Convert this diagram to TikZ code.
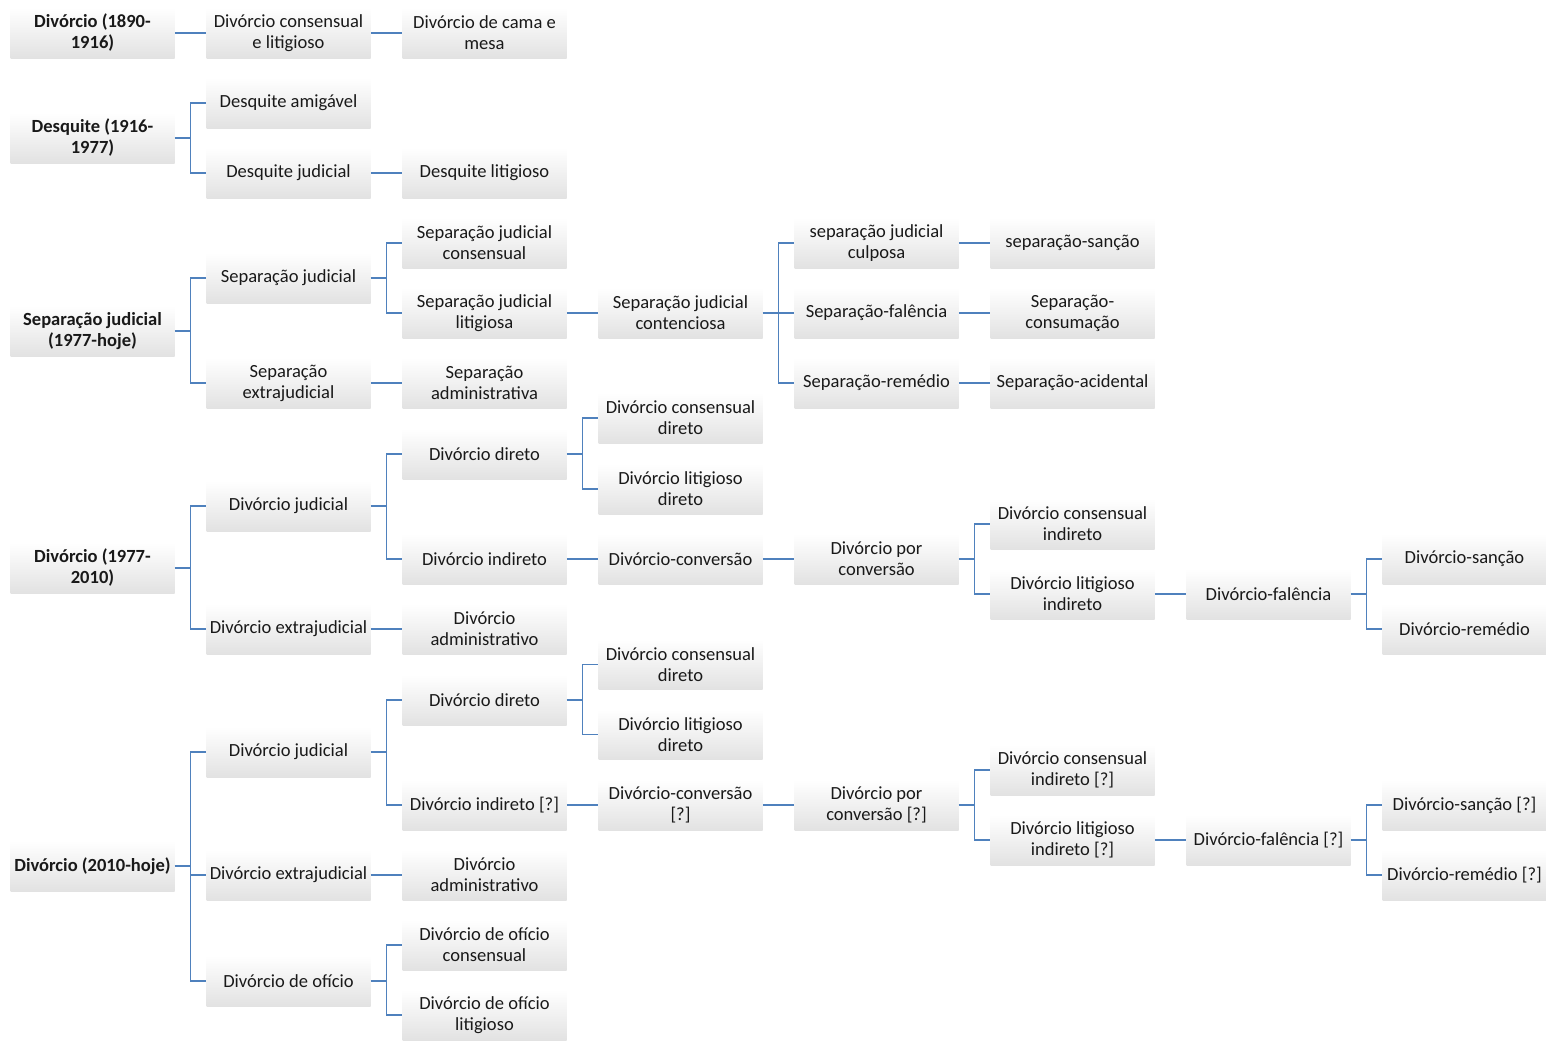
\documentclass[tikz,border=0pt]{standalone}
\usepackage{fontspec}
\setmainfont{Carlito}
\usepackage{tikz}
\usepackage{xcolor}

\definecolor{linkblue}{RGB}{79,129,189}
\definecolor{boxgray}{RGB}{226,226,226}

\begin{document}
\begin{tikzpicture}[
            x = 0.75pt, y = -0.75pt, % pixel grid
            font = \fontsize{13.9}{15.75}\selectfont,
            box/.style = {minimum width=123pt, minimum height=37.5pt, inner sep=1pt,
                          align=center, top color=white, bottom color=boxgray, text=black!90},
            root/.style = {box, font=\fontsize{13.9}{15.75}\selectfont\bfseries},
            link/.style = {draw=linkblue, line width=0.9pt,
                          to path={(\tikztostart.east) -- ++(15.5,0) |- (\tikztotarget.west)}}
        ]
\useasboundingbox (0,0) rectangle (1546,1040);

% first column
\node[root] (D1890) at (92.5,33) {Divórcio (1890-\\1916)};
\node[root] (Desq) at (92.5,138) {Desquite (1916-\\1977)};
\node[root] (SepJ) at (92.5,331) {Separação judicial\\(1977-hoje)};
\node[root] (D1977) at (92.5,568) {Divórcio (1977-\\2010)};
\node[root] (D2010) at (92.5,866) {Divórcio (2010-hoje)};

% second column
\node[box] (DCL) at (288.5,33) {Divórcio consensual\\e litigioso};
\node[box] (DA) at (288.5,103) {Desquite amigável};
\node[box] (DJ) at (288.5,173) {Desquite judicial};
\node[box] (SJ) at (288.5,278) {Separação judicial};
\node[box] (SE) at (288.5,383) {Separação\\extrajudicial};
\node[box] (DJa) at (288.5,506) {Divórcio judicial};
\node[box] (DEa) at (288.5,629) {Divórcio extrajudicial};
\node[box] (DJb) at (288.5,752) {Divórcio judicial};
\node[box] (DEb) at (288.5,875) {Divórcio extrajudicial};
\node[box] (DO) at (288.5,981) {Divórcio de ofício};

% third column
\node[box] (DCM) at (484.5,33) {Divórcio de cama e\\mesa};
\node[box] (DL) at (484.5,173) {Desquite litigioso};
\node[box] (SJC) at (484.5,243) {Separação judicial\\consensual};
\node[box] (SJL) at (484.5,313) {Separação judicial\\litigiosa};
\node[box] (SA) at (484.5,383) {Separação\\administrativa};
\node[box] (DDa) at (484.5,454) {Divórcio direto};
\node[box] (DIa) at (484.5,559) {Divórcio indireto};
\node[box] (DAa) at (484.5,629) {Divórcio\\administrativo};
\node[box] (DDb) at (484.5,700) {Divórcio direto};
\node[box] (DIb) at (484.5,805) {Divórcio indireto [?]};
\node[box] (DAb) at (484.5,875) {Divórcio\\administrativo};
\node[box] (DOC) at (484.5,945) {Divórcio de ofício\\consensual};
\node[box] (DOL) at (484.5,1015) {Divórcio de ofício\\litigioso};

% fourth column
\node[box] (SJCt) at (680.5,313) {Separação judicial\\contenciosa};
\node[box] (DCDa) at (680.5,418) {Divórcio consensual\\direto};
\node[box] (DLDa) at (680.5,489) {Divórcio litigioso\\direto};
\node[box] (DCa) at (680.5,559) {Divórcio-conversão};
\node[box] (DCDb) at (680.5,664.5) {Divórcio consensual\\direto};
\node[box] (DLDb) at (680.5,734.5) {Divórcio litigioso\\direto};
\node[box] (DCb) at (680.5,805) {Divórcio-conversão\\{}[?]};

% fifth column
\node[box] (SJCu) at (876.5,243) {separação judicial\\culposa};
\node[box] (SF) at (876.5,313) {Separação-falência};
\node[box] (SR) at (876.5,383) {Separação-remédio};
\node[box] (DPCa) at (876.5,559) {Divórcio por\\conversão};
\node[box] (DPCb) at (876.5,805) {Divórcio por\\conversão [?]};

% sixth column
\node[box] (SS) at (1072.5,243) {separação-sanção};
\node[box] (SCo) at (1072.5,313) {Separação-\\consumação};
\node[box] (SAc) at (1072.5,383) {Separação-acidental};
\node[box] (DCIa) at (1072.5,524) {Divórcio consensual\\indireto};
\node[box] (DLIa) at (1072.5,594) {Divórcio litigioso\\indireto};
\node[box] (DCIb) at (1072.5,770) {Divórcio consensual\\indireto [?]};
\node[box] (DLIb) at (1072.5,840) {Divórcio litigioso\\indireto [?]};

% seventh column
\node[box] (DFa) at (1268.5,594) {Divórcio-falência};
\node[box] (DFb) at (1268.5,840) {Divórcio-falência [?]};

% eighth column
\node[box] (DSa) at (1464.5,559) {Divórcio-sanção};
\node[box] (DRa) at (1464.5,629) {Divórcio-remédio};
\node[box] (DSb) at (1464.5,805) {Divórcio-sanção [?]};
\node[box] (DRb) at (1464.5,875) {Divórcio-remédio [?]};

% connectors
 \path (D1890) edge[link] (DCL);
 \path (DCL) edge[link] (DCM);

 \path (Desq) edge[link] (DA);
 \path (Desq) edge[link] (DJ);
 \path (DJ) edge[link] (DL);

 \path (SepJ) edge[link] (SJ);
 \path (SepJ) edge[link] (SE);
 \path (SJ) edge[link] (SJC);
 \path (SJ) edge[link] (SJL);
 \path (SE) edge[link] (SA);
 \path (SJL) edge[link] (SJCt);
 \path (SJCt) edge[link] (SJCu);
 \path (SJCt) edge[link] (SF);
 \path (SJCt) edge[link] (SR);
 \path (SJCu) edge[link] (SS);
 \path (SF) edge[link] (SCo);
 \path (SR) edge[link] (SAc);

 \path (D1977) edge[link] (DJa);
 \path (D1977) edge[link] (DEa);
 \path (DJa) edge[link] (DDa);
 \path (DJa) edge[link] (DIa);
 \path (DEa) edge[link] (DAa);
 \path (DDa) edge[link] (DCDa);
 \path (DDa) edge[link] (DLDa);
 \path (DIa) edge[link] (DCa);
 \path (DCa) edge[link] (DPCa);
 \path (DPCa) edge[link] (DCIa);
 \path (DPCa) edge[link] (DLIa);
 \path (DLIa) edge[link] (DFa);
 \path (DFa) edge[link] (DSa);
 \path (DFa) edge[link] (DRa);

 \path (D2010) edge[link] (DJb);
 \path (D2010) edge[link] (DEb);
 \path (D2010) edge[link] (DO);
 \path (DJb) edge[link] (DDb);
 \path (DJb) edge[link] (DIb);
 \path (DEb) edge[link] (DAb);
 \path (DDb) edge[link] (DCDb);
 \path (DDb) edge[link] (DLDb);
 \path (DIb) edge[link] (DCb);
 \path (DCb) edge[link] (DPCb);
 \path (DPCb) edge[link] (DCIb);
 \path (DPCb) edge[link] (DLIb);
 \path (DLIb) edge[link] (DFb);
 \path (DFb) edge[link] (DSb);
 \path (DFb) edge[link] (DRb);
 \path (DO) edge[link] (DOC);
 \path (DO) edge[link] (DOL);
\end{tikzpicture}
\end{document}
